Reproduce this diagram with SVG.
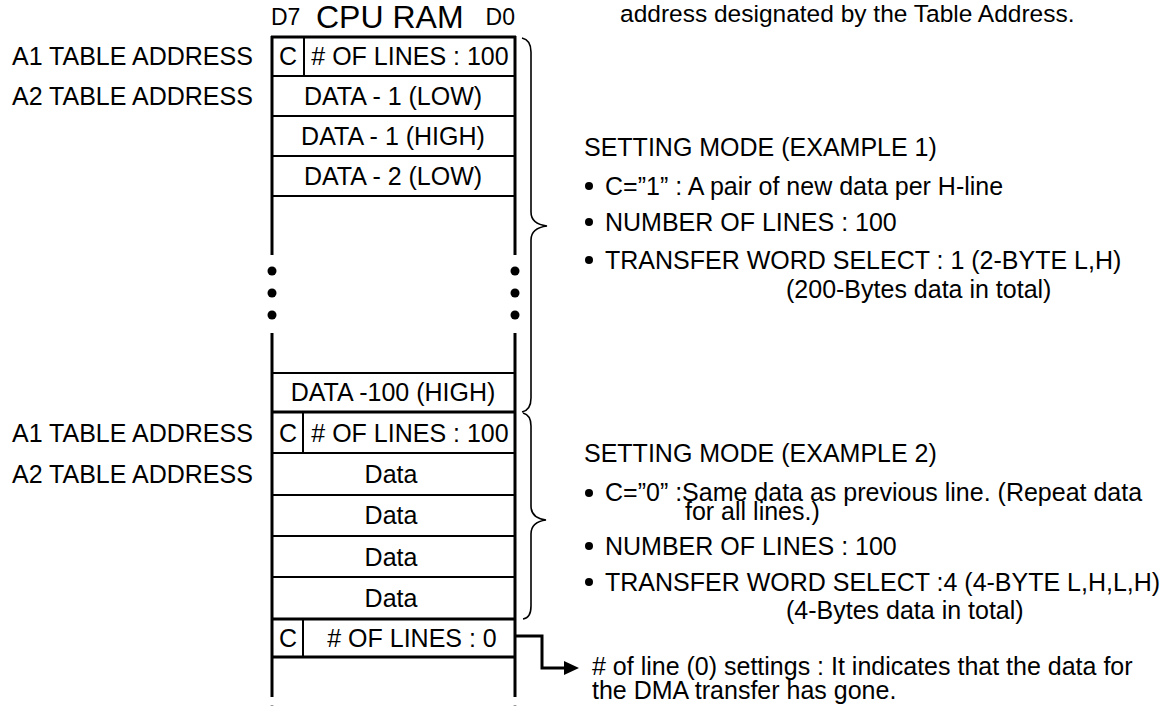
<svg xmlns="http://www.w3.org/2000/svg" width="1173" height="706" viewBox="0 0 1173 706">
<style>
text { font-family: "Liberation Sans", Arial, Helvetica, sans-serif; font-size: 25px; fill: #000; }
.mid { text-anchor: middle; }
.end { text-anchor: end; }
.thick { stroke: #000; stroke-width: 3; fill: none; }
.thin { stroke: #000; stroke-width: 2; fill: none; }
.brace { stroke: #000; stroke-width: 1.6; fill: none; }
.dot { fill: #000; }
</style>
<rect width="1173" height="706" fill="#fff"/>

<g id="title-note">
<text x="620" y="22" style="font-size:24.5px">address designated by the Table Address.</text>
</g>

<g id="ram-header">
<text x="271" y="25" style="font-size:23px">D7</text>
<text x="316" y="28" style="font-size:32px">CPU RAM</text>
<text x="515" y="25" class="end" style="font-size:23px">D0</text>
</g>

<g id="address-labels">
<text x="12" y="65">A1 TABLE ADDRESS</text>
<text x="12" y="105">A2 TABLE ADDRESS</text>
<text x="12" y="442">A1 TABLE ADDRESS</text>
<text x="12" y="483">A2 TABLE ADDRESS</text>
</g>

<g id="ram-column">
<line class="thick" x1="272" y1="36" x2="272" y2="255"/>
<line class="thick" x1="515" y1="36" x2="515" y2="255"/>
<line class="thick" x1="272" y1="333" x2="272" y2="697"/>
<line class="thick" x1="515" y1="333" x2="515" y2="697"/>
<circle class="dot" cx="272" cy="271" r="4.5"/>
<circle class="dot" cx="272" cy="293" r="4.5"/>
<circle class="dot" cx="272" cy="315" r="4.5"/>
<circle class="dot" cx="515" cy="271" r="4.5"/>
<circle class="dot" cx="515" cy="293" r="4.5"/>
<circle class="dot" cx="515" cy="315" r="4.5"/>
<circle class="dot" cx="272" cy="710" r="4.5"/>
<circle class="dot" cx="515" cy="710" r="4.5"/>
</g>

<g id="block1-header">
<line class="thick" x1="271" y1="37" x2="516" y2="37"/>
<line class="thin" x1="304" y1="37" x2="304" y2="76"/>
<line class="thin" x1="271" y1="76" x2="516" y2="76"/>
<text x="288" y="65" class="mid">C</text>
<text x="410" y="65" class="mid"># OF LINES : 100</text>
</g>
<g id="block1-data1-low">
<line class="thin" x1="271" y1="116" x2="516" y2="116"/>
<text x="393" y="105" class="mid">DATA - 1 (LOW)</text>
</g>
<g id="block1-data1-high">
<line class="thin" x1="271" y1="156" x2="516" y2="156"/>
<text x="393" y="145" class="mid">DATA - 1 (HIGH)</text>
</g>
<g id="block1-data2-low">
<line class="thin" x1="271" y1="196" x2="516" y2="196"/>
<text x="393" y="185" class="mid">DATA - 2 (LOW)</text>
</g>
<g id="block1-data100-high">
<line class="thin" x1="271" y1="373" x2="516" y2="373"/>
<text x="393" y="401" class="mid">DATA -100 (HIGH)</text>
</g>

<g id="block2-header">
<line class="thick" x1="271" y1="412" x2="516" y2="412"/>
<line class="thin" x1="303" y1="412" x2="303" y2="453"/>
<line class="thin" x1="271" y1="453" x2="516" y2="453"/>
<text x="288" y="442" class="mid">C</text>
<text x="410" y="442" class="mid"># OF LINES : 100</text>
</g>
<g id="block2-data1">
<line class="thin" x1="271" y1="495" x2="516" y2="495"/>
<text x="391" y="483" class="mid">Data</text>
</g>
<g id="block2-data2">
<line class="thin" x1="271" y1="536" x2="516" y2="536"/>
<text x="391" y="524" class="mid">Data</text>
</g>
<g id="block2-data3">
<line class="thin" x1="271" y1="577" x2="516" y2="577"/>
<text x="391" y="566" class="mid">Data</text>
</g>
<g id="block2-data4">
<line class="thick" x1="271" y1="619" x2="516" y2="619"/>
<text x="391" y="607" class="mid">Data</text>
</g>
<g id="end-row">
<line class="thin" x1="303" y1="619" x2="303" y2="657"/>
<line class="thick" x1="271" y1="657" x2="516" y2="657"/>
<text x="288" y="647" class="mid">C</text>
<text x="412" y="647" class="mid"># OF LINES : 0</text>
</g>

<g id="brace1">
<path class="brace" d="M522,38 Q531,40 531,52 L531,212 Q531,224 547,226 Q531,228 531,240 L531,398 Q531,410 522,412"/>
</g>
<g id="brace2">
<path class="brace" d="M523,413 Q531,415 531,426 L531,506 Q531,518 546,520 Q531,522 531,534 L531,606 Q531,618 523,619"/>
</g>

<g id="example1">
<text x="584" y="156">SETTING MODE (EXAMPLE 1)</text>
<circle class="dot" cx="589" cy="186" r="4"/>
<text x="605" y="195">C=”1” : A pair of new data per H-line</text>
<circle class="dot" cx="589" cy="222" r="4"/>
<text x="605" y="231">NUMBER OF LINES : 100</text>
<circle class="dot" cx="589" cy="260" r="4"/>
<text x="605" y="269">TRANSFER WORD SELECT : 1 (2-BYTE L,H)</text>
<text x="786" y="298">(200-Bytes data in total)</text>
</g>

<g id="example2">
<text x="584" y="462">SETTING MODE (EXAMPLE 2)</text>
<circle class="dot" cx="589" cy="493" r="4"/>
<text x="605" y="501">C=”0” :Same data as previous line. (Repeat data</text>
<text x="685" y="520">for all lines.)</text>
<circle class="dot" cx="589" cy="546" r="4"/>
<text x="605" y="555">NUMBER OF LINES : 100</text>
<circle class="dot" cx="589" cy="582" r="4"/>
<text x="605" y="591">TRANSFER WORD SELECT :4 (4-BYTE L,H,L,H)</text>
<text x="786" y="619">(4-Bytes data in total)</text>
</g>

<g id="end-note">
<text x="592" y="675"># of line (0) settings : It indicates that the data for</text>
<text x="592" y="699">the DMA transfer has gone.</text>
</g>

<g id="connectors">
<polyline class="thick" points="516,636 542,636 542,668 566,668"/>
<path d="M564,661 L579,668 L564,675 z" fill="#000"/>
</g>
</svg>
